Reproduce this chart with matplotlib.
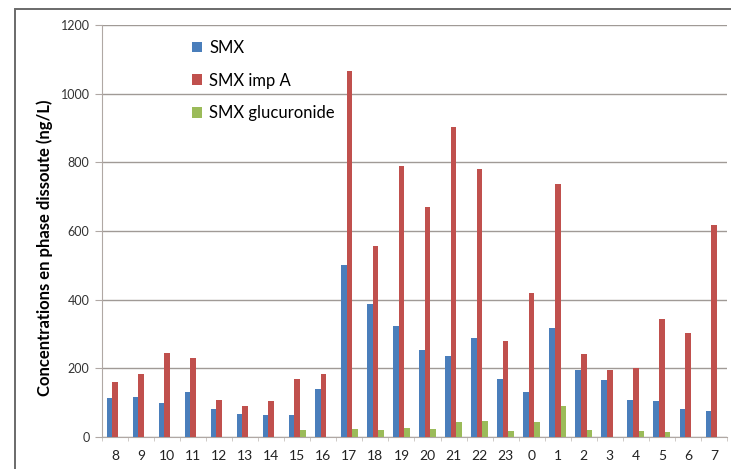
import matplotlib

matplotlib.use("Agg")
import matplotlib.pyplot as plt
import numpy as np
from matplotlib.patches import Rectangle

hours = ["8", "9", "10", "11", "12", "13", "14", "15", "16", "17", "18", "19",
         "20", "21", "22", "23", "0", "1", "2", "3", "4", "5", "6", "7"]
smx = [113, 118, 100, 132, 81, 67, 64, 65, 141, 500, 388, 323,
       255, 237, 289, 169, 132, 318, 195, 165, 108, 106, 83, 76]
smx_imp_a = [161, 183, 246, 231, 109, 90, 104, 168, 184, 1065, 555, 790,
             670, 902, 780, 279, 420, 736, 242, 194, 202, 344, 304, 616]
smx_glucuronide = [0, 0, 0, 0, 0, 0, 0, 20, 0, 24, 22, 26,
                   23, 44, 46, 19, 45, 91, 22, 0, 17, 16, 0, 0]

plt.rcParams["font.family"] = ["Lato", "DejaVu Sans"]

fig = plt.figure(figsize=(7.31, 4.69), dpi=100)
ax = fig.add_axes([0.1395, 0.068, 0.855, 0.879])

# chart area frame like the spreadsheet export
fig.patches.append(Rectangle((15 / 731, -0.05), 1.0, (469 - 9) / 469 + 0.05,
                             transform=fig.transFigure, fill=False,
                             edgecolor="#6a6a6a", linewidth=1.4))

x = np.arange(len(hours))
w = 0.215
ax.bar(x - w, smx, w, color="#4a7ebb", label="SMX", zorder=3)
ax.bar(x, smx_imp_a, w, color="#c0504d", label="SMX imp A", zorder=3)
ax.bar(x + w, smx_glucuronide, w, color="#9bbb59", label="SMX glucuronide", zorder=3)

ax.set_xlim(-0.5, len(hours) - 0.5)
ax.set_ylim(0, 1200)
ax.set_yticks(np.arange(0, 1201, 200))
ax.yaxis.grid(True, color="#a09a96", linewidth=1.0, zorder=0)
ax.set_xticks(x)
ax.set_xticklabels(hours, fontsize=10, color="#222222")
ax.set_xticks(np.arange(-0.5, len(hours), 1), minor=True)
ax.tick_params(axis="x", which="major", length=0, pad=9)
ax.tick_params(axis="x", which="minor", length=3, color="#c8c2be")
ax.tick_params(axis="y", length=5, color="#b0a8a4", labelsize=9, labelcolor="#333333", pad=4)

for side in ["top", "right"]:
    ax.spines[side].set_visible(False)
ax.spines["left"].set_color("#b0a8a4")
ax.spines["bottom"].set_color("#b0a8a4")

ax.set_ylabel("Concentrations en phase dissoute (ng/L)", fontsize=12,
              fontweight="bold")
ax.yaxis.set_label_coords(-0.078, 0.46)

ax.legend(loc="upper left", bbox_to_anchor=(0.12, 1.0), frameon=False,
          fontsize=12, handlelength=0.6, handleheight=0.6,
          handletextpad=0.45, labelspacing=1.0)

fig.savefig("out.png", dpi=100)
plt.close(fig)
